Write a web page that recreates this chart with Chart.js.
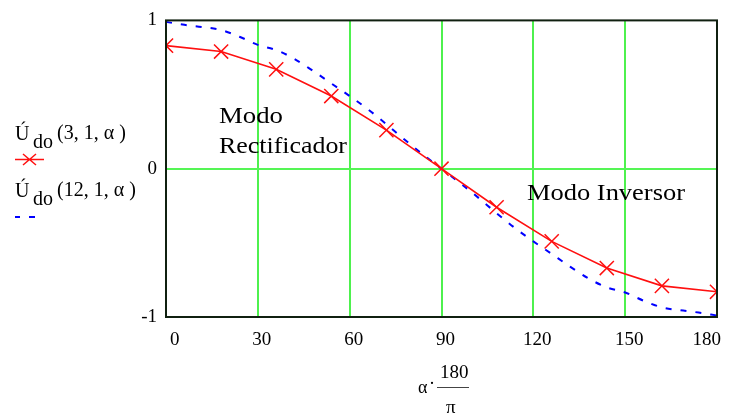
<!DOCTYPE html>
<html>
<head>
<meta charset="utf-8">
<script src="https://cdn.jsdelivr.net/npm/chart.js@4/dist/chart.umd.min.js"></script>
<style>
  html, body { margin: 0; padding: 0; background: #fff; }
  #wrap { width: 729px; height: 416px; position: relative; }
</style>
</head>
<body>
<div id="wrap"><canvas id="mycanvas" width="729" height="416"></canvas></div>
<script>
// firing angle in degrees (alpha*180/pi)
var alpha3 = [0, 18, 36, 54, 72, 90, 108, 126, 144, 162, 180];
var udo3 = [0.83, 0.79, 0.67, 0.49, 0.26, 0, -0.26, -0.49, -0.67, -0.79, -0.83];

var alpha12 = [0, 6, 12, 18, 24, 30, 36, 42, 48, 54, 60, 66, 72, 78, 84, 90,
               96, 102, 108, 114, 120, 126, 132, 138, 144, 150, 156, 162, 168, 174, 180];
var udo12 = [0.99, 0.97, 0.955, 0.935, 0.89, 0.835, 0.80, 0.74, 0.66, 0.575, 0.49, 0.40, 0.30, 0.195, 0.095, 0,
             -0.095, -0.195, -0.30, -0.40, -0.49, -0.575, -0.66, -0.74, -0.80, -0.835, -0.89, -0.935, -0.955, -0.97, -0.99];

var xTicks = [0, 30, 60, 90, 120, 150, 180];
var yTicks = [-1, 0, 1];

function pts(xs, ys){
  var out = [];
  for(var i = 0; i < xs.length; i++){
    out.push({x: xs[i], y: ys[i]});
  }
  return out;
}

var serif = '"Liberation Serif", "Times New Roman", serif';

// draw text stretched to a given width
function fitText(ctx, txt, x, y, w){
  var m = ctx.measureText(txt).width;
  ctx.save();
  ctx.translate(x, y);
  ctx.scale(w / m, 1);
  ctx.fillText(txt, 0, 0);
  ctx.restore();
}

var extras = {
  id: 'extras',
  beforeDatasetsDraw: function(chart){
    // green grid lines at the inner ticks
    var ctx = chart.ctx;
    var a = chart.chartArea;
    var xs = chart.scales.x, ys = chart.scales.y;
    ctx.save();
    ctx.strokeStyle = '#22ee22';
    ctx.lineWidth = 1.6;
    ctx.beginPath();
    for(var i = 1; i < xTicks.length - 1; i++){
      var px = Math.round(xs.getPixelForValue(xTicks[i]));
      ctx.moveTo(px, a.top); ctx.lineTo(px, a.bottom);
    }
    ctx.stroke();
    ctx.strokeStyle = '#55f555';
    ctx.lineWidth = 2;
    ctx.beginPath();
    var py = Math.round(ys.getPixelForValue(0));
    ctx.moveTo(a.left, py); ctx.lineTo(a.right, py);
    ctx.stroke();
    ctx.restore();
  },
  afterDraw: function(chart){
    var ctx = chart.ctx;
    var a = chart.chartArea;
    ctx.save();
    // frame
    ctx.strokeStyle = '#102010';
    ctx.lineWidth = 2;
    ctx.strokeRect(a.left, a.top, a.right - a.left, a.bottom - a.top);

    ctx.fillStyle = '#000';
    ctx.textBaseline = 'alphabetic';
    ctx.textAlign = 'left';

    // region labels
    ctx.font = '24px ' + serif;
    fitText(ctx, 'Modo', 219, 123, 64);
    fitText(ctx, 'Rectificador', 219, 153, 128);
    fitText(ctx, 'Modo Inversor', 527, 200, 158);

    // legend
    ctx.font = '20px ' + serif;
    ctx.fillText('Ú', 15, 140);
    ctx.fillText('do', 33, 148);
    ctx.fillText('(3, 1, α )', 57, 139);
    ctx.fillText('Ú', 15, 197);
    ctx.fillText('do', 33, 205);
    ctx.fillText('(12, 1, α )', 57, 196);

    ctx.strokeStyle = '#ff1010';
    ctx.lineWidth = 1.5;
    ctx.beginPath();
    ctx.moveTo(15, 159.5); ctx.lineTo(44, 159.5);
    ctx.moveTo(23, 154); ctx.lineTo(36, 165);
    ctx.moveTo(23, 165); ctx.lineTo(36, 154);
    ctx.stroke();

    ctx.strokeStyle = '#0000ff';
    ctx.lineWidth = 2;
    ctx.beginPath();
    ctx.moveTo(15, 217); ctx.lineTo(20, 217);
    ctx.moveTo(29, 217); ctx.lineTo(35, 217);
    ctx.stroke();

    // x axis title: alpha * 180 / pi
    ctx.font = '18px ' + serif;
    ctx.fillText('α', 418, 393);
    ctx.fillText('·', 429, 389);
    ctx.font = '19px ' + serif;
    ctx.fillText('180', 440, 378);
    ctx.fillText('π', 446, 413);
    ctx.strokeStyle = '#444';
    ctx.lineWidth = 1;
    ctx.beginPath();
    ctx.moveTo(437, 387.5); ctx.lineTo(469, 387.5);
    ctx.stroke();
    ctx.restore();
  }
};

var ctx = document.getElementById('mycanvas');
var mycanvas = new Chart(ctx, {
  type: 'line',
  data: {
    datasets: [{
      label: 'Udo(3,1,a)',
      data: pts(alpha3, udo3),
      borderColor: '#ff1010',
      backgroundColor: '#ff1010',
      borderWidth: 1.6,
      pointStyle: 'crossRot',
      pointRadius: 10,
      pointBorderWidth: 1.5,
      pointBorderColor: '#ff1010',
      tension: 0,
      clip: 0
    }, {
      label: 'Udo(12,1,a)',
      data: pts(alpha12, udo12),
      borderColor: '#0000ff',
      borderWidth: 2,
      borderDash: [6, 9],
      pointRadius: 0,
      cubicInterpolationMode: 'monotone',
      clip: 2
    }]
  },
  options: {
    responsive: false,
    animation: false,
    events: [],
    layout: { padding: { top: 14, right: 7, left: 0, bottom: 0 } },
    plugins: {
      legend: { display: false },
      title: { display: false },
      tooltip: { enabled: false }
    },
    scales: {
      x: {
        type: 'linear',
        min: 0,
        max: 180,
        afterBuildTicks: function(scale){
          scale.ticks = xTicks.map(function(v){ return {value: v}; });
        },
        afterFit: function(scale){ scale.height = 99; },
        ticks: {
          color: '#000',
          font: { family: serif, size: 19 },
          padding: 12,
          align: 'inner',
          labelOffset: 4,
          maxRotation: 0
        },
        grid: { display: false, drawTicks: false },
        border: { display: false }
      },
      y: {
        type: 'linear',
        min: -1,
        max: 1,
        afterBuildTicks: function(scale){
          scale.ticks = yTicks.map(function(v){ return {value: v}; });
        },
        afterFit: function(scale){ scale.width = 166; },
        ticks: {
          color: '#000',
          font: { family: serif, size: 19 },
          padding: 9
        },
        grid: { display: false, drawTicks: false },
        border: { display: false }
      }
    }
  },
  plugins: [extras]
});
</script>
</body>
</html>
